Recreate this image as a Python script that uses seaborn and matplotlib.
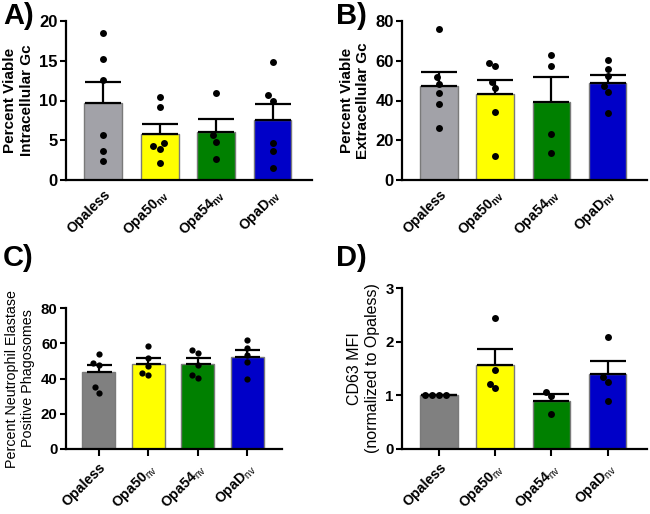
import numpy as np
import pandas as pd
import matplotlib
matplotlib.use("Agg")
import matplotlib.pyplot as plt
import seaborn as sns

# ---------------- data ----------------
groups = ["Opaless", "Opa50nv", "Opa54nv", "OpaDnv"]
tick_names = ["Opaless", "Opa50", "Opa54", "OpaD"]
tick_subs = ["", "nv", "nv", "nv"]

a_opaless = [18.5, 15.2, 12.6, 5.6, 3.7, 2.4]
a_opa50 = [10.4, 9.2, 4.6, 4.3, 3.9, 2.1]
a_opa54 = [10.9, 5.6, 4.8, 2.6]
a_opad = [14.8, 10.7, 10.0, 4.6, 3.7, 1.5]

b_opaless = [75.8, 51.7, 48.4, 44.0, 38.0, 26.3]
b_opa50 = [59.1, 57.4, 49.4, 46.2, 34.3, 12.2]
b_opa54 = [63.1, 57.6, 22.9, 13.6]
b_opad = [60.4, 56.1, 52.4, 47.4, 44.4, 33.5]

c_opaless = [53.7, 49.0, 47.7, 35.0, 32.0]
c_opa50 = [58.3, 51.8, 47.3, 43.1, 42.0]
c_opa54 = [56.2, 54.7, 47.7, 42.2, 40.5]
c_opad = [61.8, 57.3, 53.3, 49.4, 39.7]

d_opaless = [1.0, 1.0, 1.0, 1.0]
d_opa50 = [2.44, 1.48, 1.22, 1.14]
d_opa54 = [1.07, 0.98, 0.65]
d_opad = [2.09, 1.35, 1.25, 0.89]

a_yticks = [0, 5, 10, 15, 20]
b_yticks = [0, 20, 40, 60, 80]
c_yticks = [0, 20, 40, 60, 80]
d_yticks = [0, 1, 2, 3]

a_ylabel = "Percent Viable\nIntracellular Gc"
b_ylabel = "Percent Viable\nExtracellular Gc"
c_ylabel = "Percent Neutrophil Elastase\nPositive Phagosomes"
d_ylabel = "CD63 MFI\n(normalized to Opaless)"

colors_ab = ["#a2a2a8", "#ffff00", "#008000", "#0000c8"]
colors_cd = ["#808080", "#ffff00", "#008000", "#0000c8"]

# ---------------- style ----------------
sns.set_style("ticks")
plt.rcParams["font.family"] = ["Liberation Sans", "DejaVu Sans"]
plt.rcParams["mathtext.fontset"] = "custom"
plt.rcParams["mathtext.rm"] = "Liberation Sans"
plt.rcParams["mathtext.bf"] = "Liberation Sans:bold"
plt.rcParams["axes.linewidth"] = 1.5
for k in ["text.color", "axes.labelcolor", "xtick.color", "ytick.color",
          "axes.edgecolor"]:
    plt.rcParams[k] = "black"

W, H = 650, 514
fig = plt.figure(figsize=(W / 100, H / 100), dpi=100)


def make_df(lists):
    rows = []
    for g, vals in zip(groups, lists):
        for v in vals:
            rows.append({"group": g, "value": v})
    return pd.DataFrame(rows)


def panel(rect_px, lists, colors, yticks, ylabel, ylabel_bold, ylabel_size,
          bold_sub, xtick_marks, capsize, dot_size, tick_fs):
    l, r, t, b = rect_px
    ax = fig.add_axes([l / W, 1 - b / H, (r - l) / W, (b - t) / H])
    df = make_df(lists)
    sns.barplot(data=df, x="group", y="value", order=groups, hue="group",
                hue_order=groups, palette=colors, legend=False, errorbar=None,
                saturation=1, width=0.67, edgecolor="#7a7a7a", linewidth=1.0,
                ax=ax, zorder=2)
    stats = df.groupby("group", sort=False)["value"].agg(["mean", "sem"]).reindex(groups)
    ax.errorbar(x=np.arange(len(groups)), y=stats["mean"].values,
                yerr=[np.zeros(len(groups)), stats["sem"].values],
                fmt="none", ecolor="black", elinewidth=1.6, capsize=capsize,
                capthick=1.6, zorder=3)
    sns.swarmplot(data=df, x="group", y="value", order=groups, color="black",
                  size=dot_size, ax=ax, zorder=4)
    ax.set_xlim(-0.66, 3.7)
    ax.set_ylim(yticks[0], yticks[-1])
    ax.set_yticks(yticks)
    ax.set_yticklabels([str(v) for v in yticks], fontweight="bold", fontsize=tick_fs)
    ax.set_xticks(np.arange(len(groups)))
    labs = []
    for n, s in zip(tick_names, tick_subs):
        if s:
            if bold_sub:
                labs.append(n + r"$_{\mathbf{" + s + "}}$")
            else:
                labs.append(n + r"$_{\mathrm{" + s + "}}$")
        else:
            labs.append(n)
    ax.set_xticklabels(labs, rotation=45, ha="right", rotation_mode="anchor",
                       fontweight="bold", fontsize=10.2)
    ax.set_xlabel("")
    ax.set_ylabel(ylabel, fontweight="bold" if ylabel_bold else "normal",
                  fontsize=ylabel_size, labelpad=4)
    sns.despine(ax=ax)
    ax.spines["left"].set_linewidth(1.6)
    ax.spines["bottom"].set_linewidth(1.6)
    ax.tick_params(axis="y", length=4, width=1.5, pad=2)
    ax.tick_params(axis="x", length=5 if xtick_marks else 0, width=1.5,
                   pad=3 if xtick_marks else 5)
    return ax


panel((66, 312, 21, 180), [a_opaless, a_opa50, a_opa54, a_opad], colors_ab,
      a_yticks, a_ylabel, True, 11, True, False, 13, 5, 12)
panel((402, 647, 21, 180), [b_opaless, b_opa50, b_opa54, b_opad], colors_ab,
      b_yticks, b_ylabel, True, 11, True, False, 13, 5, 12)
panel((66, 282, 308, 449), [c_opaless, c_opa50, c_opa54, c_opad], colors_cd,
      c_yticks, c_ylabel, False, 10.3, False, True, 9, 4.5, 10.8)
panel((402, 647, 288, 449), [d_opaless, d_opa50, d_opa54, d_opad], colors_cd,
      d_yticks, d_ylabel, False, 11.5, False, True, 13, 5, 10.8)

for txt, x, y in [("A)", 3, 2), ("B)", 336, 2), ("C)", 3, 244), ("D)", 336, 244)]:
    fig.text(x / W, 1 - y / H, txt, fontsize=21, fontweight="bold",
             ha="left", va="top")

fig.savefig("out.png", dpi=100)
